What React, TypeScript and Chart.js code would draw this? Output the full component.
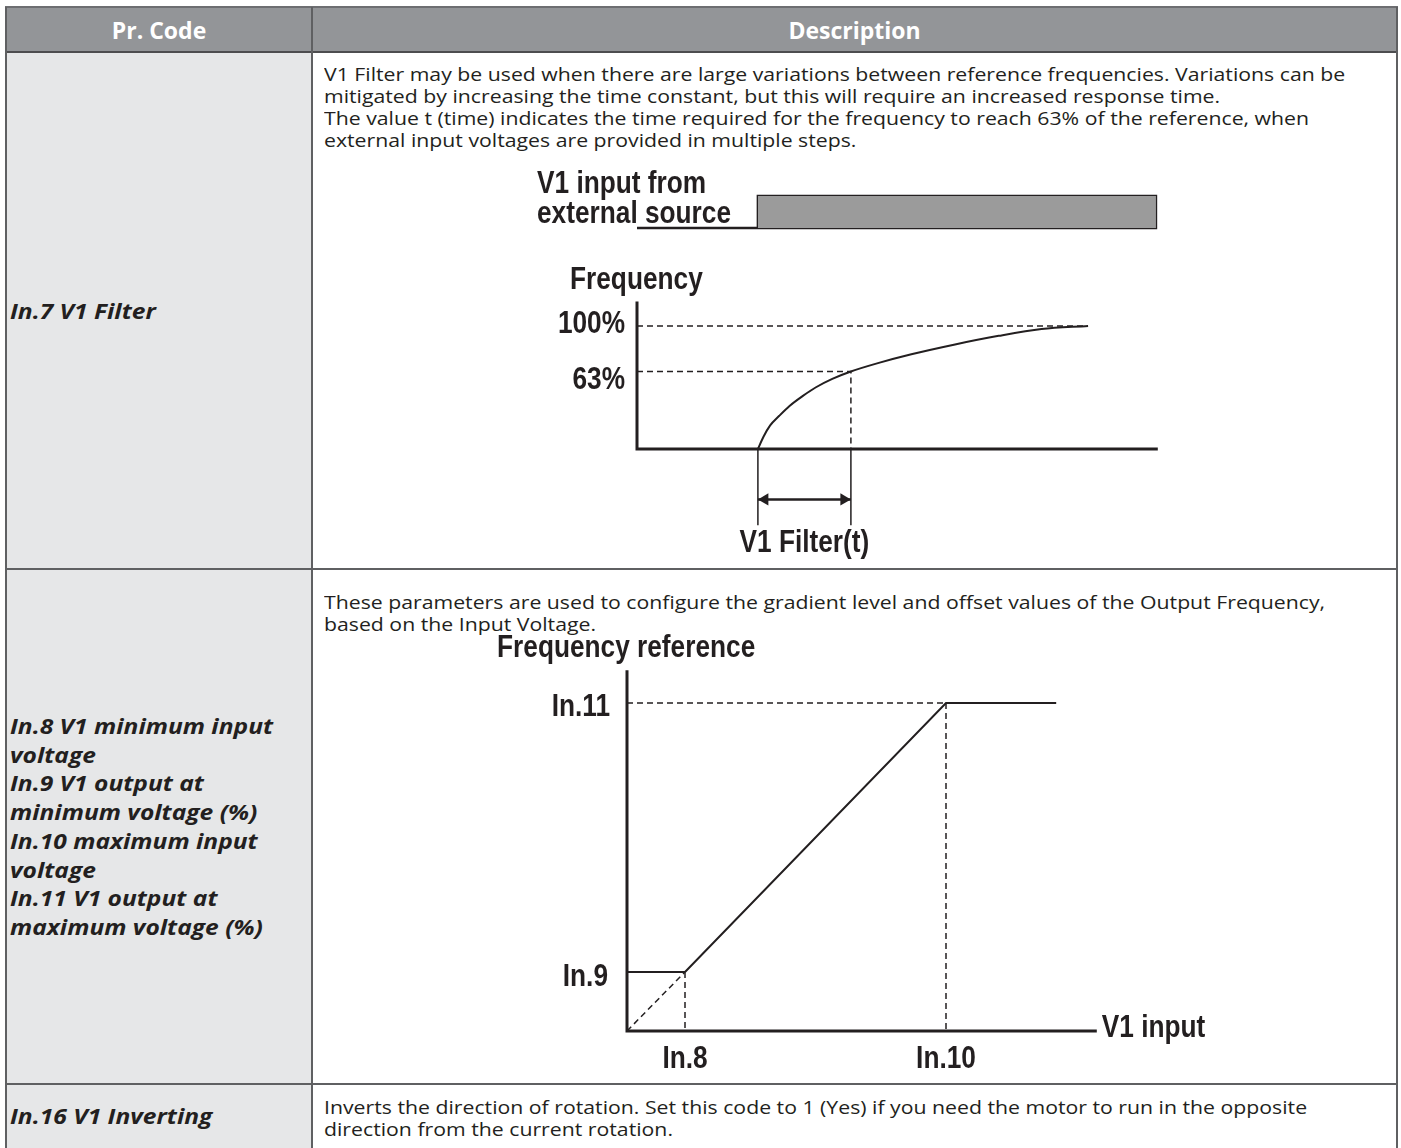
import React, { useEffect, useRef } from "react";
import { Chart, registerables } from "chart.js";

Chart.register(...registerables);

// ---------------- Table texts ----------------
const headerLabels = ["Pr. Code", "Description"];

const row1Code = ["In.7 V1 Filter"];
const row1Desc = [
  "V1 Filter may be used when there are large variations between reference frequencies. Variations can be",
  "mitigated by increasing the time constant, but this will require an increased response time.",
  "The value t (time) indicates the time required for the frequency to reach 63% of the reference, when",
  "external input voltages are provided in multiple steps.",
];

const row2Code = [
  "In.8 V1 minimum input",
  "voltage",
  "In.9 V1 output at",
  "minimum voltage (%)",
  "In.10 maximum input",
  "voltage",
  "In.11 V1 output at",
  "maximum voltage (%)",
];
const row2Desc = [
  "These parameters are used to configure the gradient level and offset values of the Output Frequency,",
  "based on the Input Voltage.",
];

const row3Code = ["In.16 V1 Inverting"];
const row3Desc = [
  "Inverts the direction of rotation. Set this code to 1 (Yes) if you need the motor to run in the opposite",
  "direction from the current rotation.",
];

// ---------------- Chart 1: V1 filter response ----------------
const stepTime = 1.3; // V1 input switched on
const filterTime = 2.3; // time when 63% is reached
const settleTime = 4.85; // response reaches 100%
const timeAxisEnd = 5.6;
const inputEndTime = 5.58;
const freqAxisTop = 120;
const inputLevels = [0, 1];
const responseTime = [1.3, 1.36, 1.43, 1.53, 1.64, 1.78, 1.92, 2.1, 2.3, 2.6, 2.95, 3.42, 3.89, 4.35, 4.85];
const responsePct = [0, 10, 19, 27, 35, 43, 50, 57, 63, 70, 77, 85, 92, 97.5, 100];
const freqTickValues = [100, 63];
const freqTickLabels = ["100%", "63%"];
const filterLabel = "V1 Filter(t)";
const inputTitle = ["V1 input from", "external source"];
const freqTitle = "Frequency";

// ---------------- Chart 2: V1 gain / offset ----------------
const in8Volt = 1.0;
const in10Volt = 5.5;
const in9Pct = 18;
const in11Pct = 100;
const voltAxisEnd = 8.1;
const flatEnd = 7.4;
const refAxisTop = 110;
const refTickValues = [in11Pct, in9Pct];
const refTickLabels = ["In.11", "In.9"];
const voltTickValues = [in8Volt, in10Volt];
const voltTickLabels = ["In.8", "In.10"];
const refTitle = "Frequency reference";
const voltTitle = "V1 input";

// ---------------- Styles / layout ----------------
const BORDER = "#5f6062";
const HEADER_BG = "#939598";
const CODE_BG = "#e6e7e8";
const INK = "#231f20";
const BODY_FONT = "'Open Sans', 'Noto Sans', sans-serif";
const DIAGRAM_FONT = "bold 32px 'Liberation Sans', Arial, sans-serif";
const CONDENSE = 0.82;
const DASH = [6, 4];

type Frame = { left: number; top: number; width: number; height: number };
type Mapping = { ox: number; oy: number; ppx: number; ppy: number };

function xRange(f: Frame, m: Mapping) {
  return { min: (f.left - m.ox) / m.ppx, max: (f.left + f.width - m.ox) / m.ppx };
}
function yRange(f: Frame, oy: number, ppy: number) {
  return { min: (oy - (f.top + f.height)) / ppy, max: (oy - f.top) / ppy };
}

const frame1: Frame = { left: 520, top: 160, width: 670, height: 405 };
const map1: Mapping = { ox: 637, oy: 449, ppx: 93, ppy: 1.23 };
const sigOrigin = 228;
const sigPpu = 32;

const frame2: Frame = { left: 480, top: 615, width: 780, height: 465 };
const map2: Mapping = { ox: 627, oy: 1031, ppx: 58, ppy: 3.28 };

const labelPlugin = {
  id: "diagramLabels",
  afterDatasetsDraw(chart: any, _args: any, opts: any) {
    const ctx = chart.ctx as CanvasRenderingContext2D;
    for (const l of opts.labels || []) {
      const xs = chart.scales["x"];
      const ys = chart.scales[l.axis || "y"];
      const px = xs.getPixelForValue(l.x) + (l.dx || 0);
      const py = ys.getPixelForValue(l.y) + (l.dy || 0);
      ctx.save();
      ctx.font = DIAGRAM_FONT;
      ctx.fillStyle = INK;
      ctx.textBaseline = "middle";
      ctx.textAlign = l.align || "left";
      ctx.translate(px, py);
      ctx.scale(CONDENSE, 1);
      ctx.fillText(l.text, 0, 0);
      ctx.restore();
    }
  },
};

const P = (x: number, y: number) => ({ x, y });

function line(data: any[], extra: any = {}) {
  return {
    data,
    borderColor: INK,
    borderWidth: 2,
    pointRadius: 0,
    pointHoverRadius: 0,
    fill: false,
    tension: 0,
    borderCapStyle: "butt",
    borderJoinStyle: "miter",
    clip: false,
    ...extra,
  };
}

function baseOptions(xr: any, scales: any, labels: any[]) {
  return {
    animation: false,
    responsive: false,
    maintainAspectRatio: false,
    events: [],
    layout: { padding: 0, autoPadding: false },
    plugins: {
      legend: { display: false },
      tooltip: { enabled: false },
      diagramLabels: { labels },
    },
    scales: {
      x: { type: "linear", display: false, ...xr },
      ...scales,
    },
  };
}

function buildChart1(): any {
  const headPx = 7;
  const d = headPx / map1.ppx;
  const markBottom = -62;
  const arrowY = -41;
  const datasets = [
    // gray V1 input block
    line([P(stepTime, inputLevels[1]), P(inputEndTime, inputLevels[1])], {
      yAxisID: "ySig",
      borderWidth: 0,
      fill: { value: inputLevels[0] },
      backgroundColor: "#9b9b9b",
    }),
    line(
      [
        P(0, inputLevels[0]),
        P(stepTime, inputLevels[0]),
        P(stepTime, inputLevels[1]),
        P(inputEndTime, inputLevels[1]),
        P(inputEndTime, inputLevels[0]),
        P(stepTime, inputLevels[0]),
      ],
      { yAxisID: "ySig", borderWidth: 2.5 }
    ),
    // axes
    line([P(0, freqAxisTop), P(0, 0), P(timeAxisEnd, 0)], { borderWidth: 3 }),
    // response curve
    line(responseTime.map((t, i) => P(t, responsePct[i])), {
      cubicInterpolationMode: "monotone",
      borderWidth: 2,
    }),
    // dashed guides
    line([P(0, freqTickValues[0]), P(settleTime, freqTickValues[0])], { borderWidth: 1.5, borderDash: DASH }),
    line([P(0, freqTickValues[1]), P(filterTime, freqTickValues[1]), P(filterTime, 0)], {
      borderWidth: 1.5,
      borderDash: DASH,
    }),
    // markers below axis
    line([P(stepTime, 0), P(stepTime, markBottom)], { borderWidth: 1.5 }),
    line([P(filterTime, 0), P(filterTime, markBottom)], { borderWidth: 1.5 }),
    // double arrow
    line([P(stepTime, arrowY), P(filterTime, arrowY)], { borderWidth: 2.5 }),
    {
      data: [P(stepTime + d, arrowY), P(filterTime - d, arrowY)],
      showLine: false,
      clip: false,
      pointStyle: "triangle",
      pointRadius: headPx,
      pointHoverRadius: headPx,
      pointRotation: [-90, 90],
      pointBackgroundColor: INK,
      pointBorderColor: INK,
      pointBorderWidth: 0,
    },
  ];
  const labels = [
    { text: inputTitle[0], x: -1.075, y: 1.36, axis: "ySig", align: "left" },
    { text: inputTitle[1], x: -1.075, y: 0.42, axis: "ySig", align: "left" },
    { text: freqTitle, x: -0.72, y: 139, dy: 2, align: "left" },
    { text: freqTickLabels[0], x: 0, y: freqTickValues[0], dx: -12, dy: -2, align: "right" },
    { text: freqTickLabels[1], x: 0, y: freqTickValues[1], dx: -12, dy: 9, align: "right" },
    { text: filterLabel, x: (stepTime + filterTime) / 2, y: -75, dy: 2, align: "center" },
  ];
  return {
    type: "line",
    data: { datasets },
    plugins: [labelPlugin],
    options: baseOptions(
      xRange(frame1, map1),
      {
        y: { type: "linear", display: false, ...yRange(frame1, map1.oy, map1.ppy) },
        ySig: { type: "linear", display: false, ...yRange(frame1, sigOrigin, sigPpu) },
      },
      labels
    ),
  };
}

function buildChart2(): any {
  const datasets = [
    line([P(0, refAxisTop), P(0, 0), P(voltAxisEnd, 0)], { borderWidth: 3 }),
    line([P(0, in9Pct), P(in8Volt, in9Pct)], { borderWidth: 2 }),
    line([P(in8Volt, in9Pct), P(in10Volt, in11Pct), P(flatEnd, in11Pct)], { borderWidth: 2 }),
    line([P(0, 0), P(in8Volt, in9Pct)], { borderWidth: 1.5, borderDash: DASH }),
    line([P(0, in11Pct), P(in10Volt, in11Pct)], { borderWidth: 1.5, borderDash: DASH }),
    line([P(in8Volt, in9Pct), P(in8Volt, 0)], { borderWidth: 1.5, borderDash: DASH }),
    line([P(in10Volt, in11Pct), P(in10Volt, 0)], { borderWidth: 1.5, borderDash: DASH }),
  ];
  const labels = [
    { text: refTitle, x: -2.24, y: 117.4, dy: 2, align: "left" },
    { text: refTickLabels[0], x: 0, y: refTickValues[0], dx: -17, dy: 4, align: "right" },
    { text: refTickLabels[1], x: 0, y: refTickValues[1], dx: -19, dy: 5, align: "right" },
    { text: voltTickLabels[0], x: voltTickValues[0], y: -8.2, dy: 1, align: "center" },
    { text: voltTickLabels[1], x: voltTickValues[1], y: -8.2, dy: 1, align: "center" },
    { text: voltTitle, x: voltAxisEnd, y: 1, dx: 5, align: "left" },
  ];
  return {
    type: "line",
    data: { datasets },
    plugins: [labelPlugin],
    options: baseOptions(
      xRange(frame2, map2),
      { y: { type: "linear", display: false, ...yRange(frame2, map2.oy, map2.ppy) } },
      labels
    ),
  };
}

function DiagramChart({ frame, build }: { frame: Frame; build: () => any }) {
  const ref = useRef<HTMLCanvasElement>(null);
  useEffect(() => {
    const chart = new Chart(ref.current as HTMLCanvasElement, build());
    return () => chart.destroy();
  }, []);
  return (
    <canvas
      ref={ref}
      width={frame.width}
      height={frame.height}
      style={{ position: "absolute", left: frame.left, top: frame.top, width: frame.width, height: frame.height }}
    />
  );
}

function Lines({
  lines,
  left,
  top,
  lh,
  style,
  sx,
}: {
  lines: string[];
  left: number;
  top: number;
  lh: number;
  style: any;
  sx: number;
}) {
  return (
    <div
      style={{
        position: "absolute",
        left,
        top,
        lineHeight: lh + "px",
        whiteSpace: "nowrap",
        color: INK,
        transform: `scaleX(${sx})`,
        transformOrigin: "left top",
        ...style,
      }}
    >
      {lines.map((t, i) => (
        <div key={i}>{t}</div>
      ))}
    </div>
  );
}

const hLine = (y: number, x0: number, x1: number, w = 2, c = BORDER) => (
  <div style={{ position: "absolute", left: x0, top: y - w / 2, width: x1 - x0, height: w, background: c }} />
);
const vLine = (x: number, y0: number, y1: number, w = 2, c = BORDER) => (
  <div style={{ position: "absolute", left: x - w / 2, top: y0, width: w, height: y1 - y0, background: c }} />
);

export default function App() {
  const L = 6,
    R = 1397,
    T = 7,
    HB = 52,
    C = 312,
    R1 = 569,
    R2 = 1084,
    B = 1152;
  const codeStyle = { fontFamily: BODY_FONT, fontWeight: 700, fontStyle: "italic", fontSize: 21 };
  const descStyle = { fontFamily: BODY_FONT, fontSize: 18 };
  const codeSx = 1.17;
  const descSx = 1.18;
  return (
    <div style={{ position: "absolute", left: 0, top: 0, width: 1401, height: 1148, overflow: "hidden", background: "#fff" }}>
      <div style={{ position: "absolute", left: L, top: T, width: R - L, height: HB - T, background: HEADER_BG }} />
      <div style={{ position: "absolute", left: L, top: HB, width: C - L, height: B - HB, background: CODE_BG }} />
      {headerLabels.map((h, i) => (
        <div
          key={h}
          style={{
            position: "absolute",
            left: i === 0 ? L : C,
            top: T,
            width: i === 0 ? C - L : R - C,
            height: HB - T,
            display: "flex",
            alignItems: "center",
            justifyContent: "center",
            color: "#fff",
            fontFamily: BODY_FONT,
            fontWeight: 700,
            fontSize: 23,
          }}
        >
          {h}
        </div>
      ))}
      {hLine(T, L - 1, R + 1, 1.5, "#6d6e71")}
      {hLine(HB, L - 1, R + 1, 2, "#4d4d4f")}
      {hLine(R1, L - 1, R + 1)}
      {hLine(R2, L - 1, R + 1)}
      {vLine(L, T, B, 1.5)}
      {vLine(C, T, B)}
      {vLine(R, T, B)}

      <Lines lines={row1Code} left={10} top={297} lh={29} style={codeStyle} sx={codeSx} />
      <Lines lines={row1Desc} left={324} top={63} lh={22} style={descStyle} sx={descSx} />
      <Lines lines={row2Code} left={10} top={712} lh={28.7} style={codeStyle} sx={codeSx} />
      <Lines lines={row2Desc} left={324} top={591} lh={22} style={descStyle} sx={descSx} />
      <Lines lines={row3Code} left={10} top={1102} lh={29} style={codeStyle} sx={codeSx} />
      <Lines lines={row3Desc} left={324} top={1096} lh={22} style={descStyle} sx={descSx} />

      <DiagramChart frame={frame1} build={buildChart1} />
      <DiagramChart frame={frame2} build={buildChart2} />
    </div>
  );
}
